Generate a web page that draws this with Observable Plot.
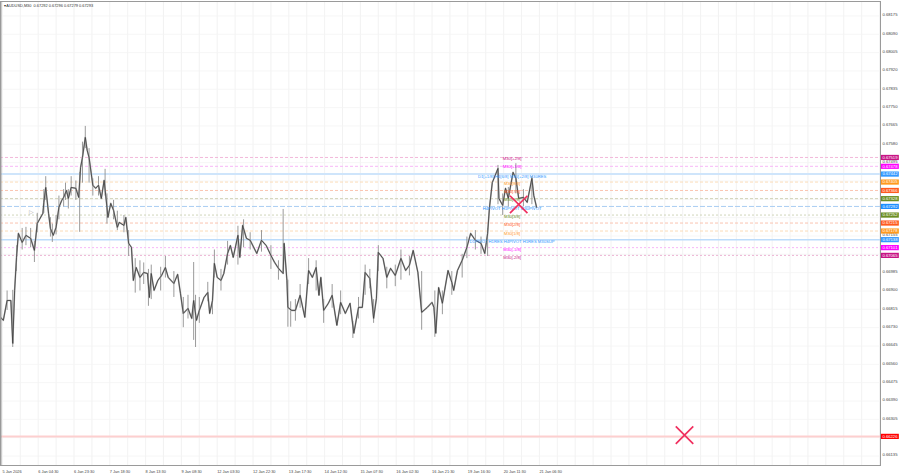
<!DOCTYPE html>
<html>
<head>
<meta charset="utf-8">
<script src="https://cdn.jsdelivr.net/npm/d3@7"></script>
<script src="https://cdn.jsdelivr.net/npm/@observablehq/plot@0.6"></script>
<style>html,body{margin:0;padding:0;background:#fff;overflow:hidden}svg{display:block}</style>
</head>
<body>
<div id="chart"></div>
<script>
const bars = [0,3,7,11,13,15,17,19,23,27,32,36,39,45,46,48,51,53,56,59,62,65,67,70,72,75,80,83,85,87,90,92,94,98,101,104,107,110,113,114,117,120,124,126,131,133,136,139,141,144,148,152,156,158,160,163,167,171,175,178,184,188,191,194,199,203,205,208,211,216,220,222,225,227,230,234,237,241,244,247,252,254,257,261,265,272,277,282,287,291,295,300,301,304,305,309,313,318,323,327,331,335,338,340,343,348,352,357,361,366,371,375,380,384,387,392,396,399,401,406,410,414,419,425,430,434,438,443,447,453,458,460,462,465,469,475,479,481,485,490,495,499,504,510,514,517,519,522,528,529,533,536,539,544,547,550,555,559,564,566,569];
const closes = [.66778,.66764,.66856,.66856,.66657,.66903,.67056,.67167,.67125,.67158,.67144,.67088,.67213,.67260,.67311,.67380,.67260,.67190,.67158,.67195,.67288,.67320,.67334,.67366,.67329,.67380,.67376,.67334,.67473,.67519,.67612,.67552,.67519,.67390,.67376,.67390,.67329,.67413,.67288,.67241,.67306,.67274,.67195,.67218,.67204,.67241,.67121,.67102,.66949,.67009,.66963,.66986,.66981,.66870,.66981,.66903,.66949,.66972,.67009,.66963,.66935,.66977,.66889,.66796,.66819,.66773,.66856,.66764,.66810,.66870,.66893,.66796,.66856,.67028,.66963,.66949,.66981,.67074,.67111,.67056,.67158,.67056,.67204,.67144,.67135,.67074,.67135,.67111,.67065,.67032,.67005,.66981,.67121,.66949,.66824,.66810,.66810,.66880,.66778,.66995,.66963,.67009,.66880,.66963,.66810,.66843,.66880,.66741,.66847,.66796,.66843,.66704,.66824,.66824,.66986,.66958,.66773,.66866,.67079,.67051,.66963,.67005,.66972,.67051,.66995,.67019,.67088,.66986,.66801,.66824,.66847,.66824,.66704,.66916,.66843,.66995,.66940,.66903,.66995,.67042,.67102,.67167,.67135,.67121,.67074,.67167,.67288,.67403,.67468,.67329,.67297,.67376,.67329,.67450,.67422,.67329,.67334,.67311,.67422,.67343,.67288];

const wickBars = [0,13,32,36,55,69,84,90,111,124,143,157,170,205,207,225,258,277,300,305,308,335,374,387,396,401,425,447,461,490,504,517,528,547,564,
  7,17,23,27,39,46,48,53,59,62,67,72,75,80,87,94,98,104,113,120,131,136,148,152,160,175,184,194,199,211,220,227,234,241,252,265,287,295,313,318,327,343,352,361,380,392,410,419,434,469,479,495,510,533,539,555];
const wickHighs = [.66850,.66903,.67190,.67130,.67210,.67400,.67450,.67663,.67464,.67270,.67050,.67000,.67010,.67032,.66880,.66870,.67230,.67180,.67278,.66950,.66850,.67040,.66760,.67020,.66860,.67110,.67090,.66990,.66900,.67070,.67180,.67190,.67482,.67490,.67431,
  .66900,.67110,.67190,.67195,.67260,.67370,.67430,.67240,.67250,.67340,.67370,.67370,.67430,.67410,.67590,.67560,.67420,.67430,.67350,.67320,.67250,.67180,.67040,.67030,.67020,.67060,.66990,.66870,.66880,.66870,.66940,.67090,.67000,.67130,.67200,.67170,.67110,.67040,.66860,.66930,.67050,.66860,.66930,.66900,.66870,.67000,.67010,.67020,.67060,.66900,.66990,.67150,.67150,.67350,.67380,.67370];
const wickLows = [.66718,.66638,.67100,.67032,.67125,.67320,.67172,.67560,.67340,.67180,.66890,.66829,.66900,.66671,.66638,.66790,.67100,.67080,.66981,.66732,.66732,.66900,.66680,.66880,.66750,.66990,.66950,.66718,.66685,.66960,.67090,.67060,.67300,.67350,.67300,
  .66810,.66990,.67090,.67110,.67170,.67260,.67320,.67150,.67160,.67230,.67290,.67280,.67340,.67320,.67400,.67400,.67340,.67340,.67210,.67230,.67170,.67060,.66900,.66930,.66860,.66960,.66870,.66730,.66770,.66750,.66850,.66960,.66900,.67020,.67020,.67090,.67000,.66950,.66760,.66820,.66930,.66750,.66820,.66790,.66770,.66910,.66910,.66920,.66970,.66790,.66880,.67050,.67070,.67250,.67290,.67290];

const priceTicks = [.68175,.68090,.68005,.67920,.67835,.67750,.67665,.67580,.67495,.67410,.67325,.67240,.67155,.67070,.66985,.66900,.66815,.66730,.66645,.66560,.66475,.66390,.66305,.66220,.66135];
const priceLabels = [.68175,.68090,.68005,.67920,.67835,.67750,.67665,.67580,.67495,.67155,.66985,.66900,.66815,.66730,.66645,.66560,.66475,.66390,.66305,.66135];
const timeBars = [2,40,78,116,154,192,230,268,306,344,382,420,458,496,534,572];
const timeLabels = ["5 Jan 2026","6 Jan 04:30","6 Jan 23:30","7 Jan 18:30","8 Jan 13:30","9 Jan 08:30","12 Jan 03:30","12 Jan 22:30","13 Jan 17:30","14 Jan 12:30","15 Jan 07:30","16 Jan 02:30","16 Jan 21:30","19 Jan 16:30","20 Jan 11:30","21 Jan 06:30"];
const gridBars = [2,21,40,59,78,97,116,135,154,173,192,211,230,249,268,287,306,325,344,363,382,401,420,439,458,477,496,515,534,553,572,591,610,629,648,667,686,705,724,743,762,781,800,819,838,857,876,895,914,933];

const levelPrices = [.67519,.67478,.67442,.67405,.67366,.67328,.67292,.67252,.67215,.67178,.67138,.67101,.67065,.66226];
const levelColors = ["#c71585","#ff00ff","#3399ff","#ff9a1f","#ff5a1f","#6b8e23","#1e8fff","#6b8e23","#ff5a1f","#ff9a1f","#3399ff","#ff00ff","#c71585","#ff0000"];
const levelLineColors = ["#f2b8da","#f7b8f7","#cfe5fb","#fbdcb8","#fac4b0","#cfd0b4","#a9cdf2","#d0d6ba","#fac4b0","#fbdcb8","#bcdcfb","#f7b8f7","#ecb4d4","#fdcfcf"];
const levelWidths = [1,1,2,1,1,1,1,1,1,1,1.5,1,1,2];
const levelDashes = ["3 2","3 2","none","3 2","3 2","3 2","5 2","2 2","3 2","3 2","none","2 2","2 2","none"];

const noteTexts = ["M30[+2/8]","M30[+1/8]","D1[+1/8] H4[6/8] M30[+2/8] M30RES","M30[8/8]","M30[7/8]","M30[5/8]","H4PIVOT H1PIVOT M30PIVOT","M30[3/8]","M30[2/8]","M30[1/8]","D1PIVOT H1RES H4PIVOT H1RES M30SUP","M30[-1/8]","M30[-2/8]"];
const noteBars = [543,543,543,543,543,543,543,543,543,543,543,543,543];
const notePrices = [.67515,.67477,.67432,.67398,.67360,.67322,.67281,.67245,.67208,.67165,.67128,.67092,.67056];

const crossBars = [550,726];
const crossPrices = [.67301,.66232];

const indexes = d3.range(bars.length);
const fontFamily = "'Liberation Sans', Arial, sans-serif";

const levelLines = levelPrices.map((p, i) => Plot.ruleY([p], {
  x1: 0, x2: 934,
  stroke: levelLineColors[i],
  strokeWidth: levelWidths[i],
  strokeDasharray: levelDashes[i]
}));

const plot = Plot.plot({
  width: 900, height: 474,
  marginLeft: 0, marginRight: 20, marginTop: 1, marginBottom: 9,
  style: {fontFamily, background: "#fff"},
  x: {domain: [0, 934], axis: null},
  y: {domain: [.66091, .68242], axis: null},
  marks: [
    Plot.ruleX(gridBars, {stroke: "#efefef", strokeWidth: 0.8}),
    Plot.ruleY(priceTicks, {stroke: "#f4f4f4", strokeWidth: 0.8}),
    ...levelLines,
    Plot.ruleX(wickBars, {x: d => d, y1: (d, i) => wickLows[i], y2: (d, i) => wickHighs[i], stroke: "#8f8f8f", strokeWidth: 0.9}),
    Plot.line(indexes, {x: i => bars[i], y: i => closes[i], stroke: "#a8a8a8", strokeWidth: 1.6, curve: "linear"}),
    Plot.line(indexes, {x: i => bars[i], y: i => closes[i], stroke: "#3a3a3a", strokeWidth: 0.8, curve: "linear"}),
    Plot.text(noteTexts, {
      text: d => d, x: (d, i) => noteBars[i], y: (d, i) => notePrices[i],
      fill: (d, i) => levelColors[i], fontSize: 4.2, textAnchor: "middle"
    }),
    Plot.dot(crossBars, {
      x: d => d, y: (d, i) => crossPrices[i], symbol: "times", r: 8,
      stroke: "#f0305f", strokeWidth: 1.7
    }),
    Plot.text(["▷"], {x: [33], y: [.67264], fill: "#aaa", fontSize: 6}),
    Plot.frame({stroke: "#9a9a9a", strokeWidth: 1}),
    Plot.ruleX([0], {stroke: "#9a9a9a", strokeWidth: 2}),
    Plot.text(priceLabels, {
      y: d => d, x: 936, dy: -1, text: d => d.toFixed(5),
      textAnchor: "start", fontSize: 4.2, fill: "#444"
    }),
    Plot.ruleY(levelPrices, {
      y: d => d, x1: 935, x2: 954,
      stroke: (d, i) => levelColors[i], strokeWidth: 5.2
    }),
    Plot.text(levelPrices, {
      y: d => d, x: 936, text: d => d.toFixed(5),
      textAnchor: "start", fontSize: 4.2, fill: "#fff"
    }),
    Plot.text(timeLabels, {
      text: d => d, x: (d, i) => timeBars[i], frameAnchor: "bottom", dy: 7,
      textAnchor: "start", fontSize: 3.9, fill: "#444"
    }),
    Plot.text(["▾ AUDUSD,M30  0.67292 0.67296 0.67279 0.67293"], {
      frameAnchor: "top-left", dx: 3, dy: 3, fontSize: 3.9, fill: "#333"
    })
  ]
});
document.getElementById("chart").append(plot);
</script>
</body>
</html>
